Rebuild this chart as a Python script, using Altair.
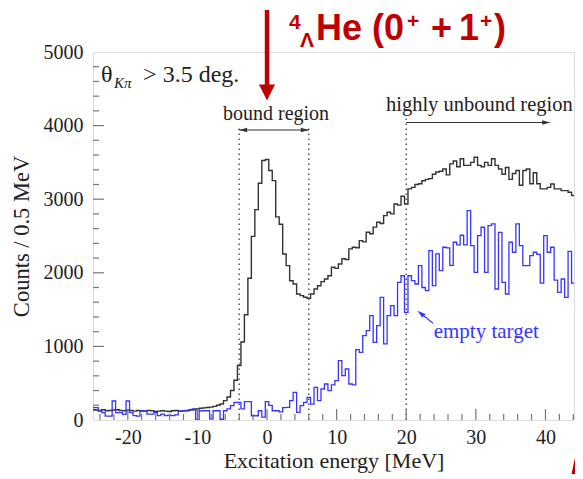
import altair as alt
import pandas as pd

# ---------------- data (bin centres every 0.5 MeV from -25 to 45) ----------------
BIN_START = -25.0
BIN_WIDTH = 0.5

black_counts = [
    140, 135, 130, 140, 125, 130, 135, 140, 130, 125,      # -25.0 .. -20.5
    135, 130, 120, 130, 125, 120, 130, 125, 115, 120,      # -20.0 .. -15.5
    125, 120, 115, 125, 130, 120, 125, 130, 135, 140,      # -15.0 .. -10.5
    150, 160, 165, 170, 175, 185, 200, 217, 263, 312,      # -10.0 .. -5.5
    400, 540, 740, 1060, 1430, 1925, 2495, 2858, 3216, 3525,  # -5.0 .. -0.5
    3540, 3390, 3253, 2760, 2660, 2256, 2097, 1893, 1848, 1712,  # 0.0 .. 4.5
    1690, 1667, 1654, 1712, 1780, 1825, 1880, 1916, 1960, 2075,  # 5.0 .. 9.5
    2060, 2120, 2190, 2180, 2325, 2347, 2340, 2437, 2420, 2550,  # 10.0 .. 14.5
    2530, 2620, 2686, 2670, 2777, 2822, 2800, 2935, 2920, 3040,  # 15.0 .. 19.5
    2935, 3140, 3160, 3200, 3210, 3250, 3270, 3280, 3340, 3370,  # 20.0 .. 24.5
    3380, 3410, 3330, 3480, 3520, 3440, 3550, 3460, 3460, 3500,  # 25.0 .. 29.5
    3570, 3460, 3440, 3500, 3460, 3550, 3460, 3410, 3340, 3430,  # 30.0 .. 34.5
    3270, 3350, 3390, 3190, 3390, 3410, 3210, 3360, 3210, 3140,  # 35.0 .. 39.5
    3140, 3160, 3207, 3140, 3140, 3117, 3117, 3095, 3050, 2980,  # 40.0 .. 44.5
    2980,                                                        # 45.0
]

blue_counts = [
    168, 168, 122, 100, 54, 54, 258, 100, 100, 77,           # -25.0 .. -20.5
    258, 100, 60, 54, 122, 122, 80, 80, 100, 60,             # -20.0 .. -15.5
    80, 60, 65, 60, 70, 120, 126, 126, 140, 150,             # -15.0 .. -10.5
    5, 126, 126, 126, 15, 126, 126, 10, 126, 150,            # -10.0 .. -5.5
    195, 240, 240, 150, 249, 249, 58, 58, 126, 40,           # -5.0 .. -0.5
    249, 200, 126, 126, 110, 168, 172, 262, 376, 104,        # 0.0 .. 4.5
    195, 240, 308, 217, 444, 262, 421, 489, 398, 476,        # 5.0 .. 9.5
    534, 806, 602, 693, 489, 476, 955, 920, 1146, 1214,      # 10.0 .. 14.5
    1417, 1056, 1282, 1667, 1033, 1417, 1553, 1417, 1871, 1960,  # 15.0 .. 19.5
    1463, 1960, 1893, 1848, 2097, 1800, 1757, 2300, 1825, 2256,  # 20.0 .. 24.5
    2029, 2347, 2340, 2100, 2415, 2380, 2510, 2380, 2845, 2369,  # 25.0 .. 29.5
    2007, 2505, 2619, 2007, 2641, 2664, 1780, 2550, 1871, 1712,  # 30.0 .. 34.5
    2415, 2279, 2664, 2369, 2097, 2097, 2233, 2279, 2250, 1860,  # 35.0 .. 39.5
    2505, 2279, 2347, 1900, 1735, 1916, 1667, 2290, 1860, 2075,  # 40.0 .. 44.5
    2075,                                                        # 45.0
]

energy = [BIN_START + BIN_WIDTH * i for i in range(len(black_counts))]

x_tick_labels = [-20, -10, 0, 10, 20, 30, 40]
x_minor = [-24, -22, -18, -16, -14, -12, -8, -6, -4, -2, 2, 4, 6, 8, 12, 14, 16, 18,
           22, 24, 26, 28, 32, 34, 36, 38, 42, 44]
y_tick_labels = [0, 1000, 2000, 3000, 4000, 5000]
y_major = [1000, 2000, 3000, 4000]
y_minor = [200, 400, 600, 800, 1200, 1400, 1600, 1800, 2200, 2400, 2600, 2800,
           3200, 3400, 3600, 3800, 4200, 4400, 4600, 4800]

dotted_x = [-4, 6, 20]
dotted_top = [4000, 4000, 4100]

# the picture is cut at its right edge a little before 45 MeV
X_VIEW = [-25, 44.1]

W, H = 481, 368
SERIF = "Liberation Serif"
SANS = "Liberation Sans"
RED = "#C00000"
BLUE = "#3535ff"
DARK = "#333333"

x_scale = alt.Scale(domain=X_VIEW, nice=False, zero=False)
y_scale = alt.Scale(domain=[0, 5000], nice=False)
x_axis = alt.Axis(values=x_tick_labels, labelExpr="'' + datum.value", ticks=False,
                  domain=False, grid=False, labelFont=SERIF, labelFontSize=20,
                  labelColor="#222", labelPadding=7, titleFont=SERIF, titleFontSize=22,
                  titleFontWeight="normal", titleColor="#222", titleBaseline="alphabetic",
                  titleY=47)
y_axis = alt.Axis(values=y_tick_labels, labelExpr="'' + datum.value", ticks=False,
                  domain=False, grid=False, labelFont=SERIF, labelFontSize=20,
                  labelColor="#222", labelPadding=10, titleFont=SERIF, titleFontSize=22.5,
                  titleFontWeight="normal", titleColor="#222", titlePadding=10)
X_TITLE = "Excitation energy [MeV]"
Y_TITLE = "Counts / 0.5 MeV"


def X(field):
    return alt.X(field, type="quantitative", scale=x_scale, axis=x_axis, title=X_TITLE)


def Y(field):
    return alt.Y(field, type="quantitative", scale=y_scale, axis=y_axis, title=Y_TITLE)


df_black = pd.DataFrame({"energy": energy, "counts": black_counts})
df_blue = pd.DataFrame({"energy": energy, "counts": blue_counts})

black = alt.Chart(df_black).mark_line(interpolate="step", color=DARK, strokeWidth=1.4,
                                      clip=True).encode(x=X("energy"), y=Y("counts"))
blue = alt.Chart(df_blue).mark_line(interpolate="step", color=BLUE, strokeWidth=1.3,
                                    clip=True).encode(x=X("energy"), y=Y("counts"))

dotted = alt.Chart(pd.DataFrame({"x": dotted_x, "y0": [0, 0, 0], "top": dotted_top})).mark_rule(
    color="#555", strokeWidth=1.5, strokeDash=[1.5, 3.5]).encode(
    x=X("x"), y=Y("y0"), y2="top:Q")


def xticks(vals, length):
    return alt.Chart(pd.DataFrame({"v": vals})).mark_rule(color="#777", strokeWidth=1.2).encode(
        x=X("v"), y=alt.value(H), y2=alt.value(H - length))


def yticks(vals, length):
    return alt.Chart(pd.DataFrame({"v": vals})).mark_rule(color="#777", strokeWidth=1.2).encode(
        y=Y("v"), x=alt.value(0), x2=alt.value(length))


ticks = [xticks(x_tick_labels, 11), xticks(x_minor, 6), yticks(y_major, 11), yticks(y_minor, 6)]

arrows = alt.Chart(pd.DataFrame({"x": [-4, 20], "x2": [6, 40.6], "y": [3940, 4042]})).mark_rule(
    color=DARK, strokeWidth=1.1).encode(x=X("x"), x2="x2:Q", y=Y("y"))

heads = alt.Chart(pd.DataFrame({
    "x": [-3.43, 5.43, 40.1], "y": [3940, 3940, 4042],
    "shape": ["M-1,0L1,-0.55L1,0.55Z", "M1,0L-1,-0.55L-1,0.55Z", "M1,0L-1,-0.55L-1,0.55Z"],
})).mark_point(filled=True, size=64, color=DARK, opacity=1, strokeWidth=0).encode(
    x=X("x"), y=Y("y"), shape=alt.Shape("shape:N", scale=None))

blue_arrow = alt.Chart(pd.DataFrame({"x": [23.85], "x2": [22.2], "y": [1314], "y2": [1440]})).mark_rule(
    color=BLUE, strokeWidth=1.1).encode(x=X("x"), x2="x2:Q", y=Y("y"), y2="y2:Q")

blue_head = alt.Chart(pd.DataFrame({"x": [22.07], "y": [1450]})).mark_point(
    filled=True, size=70, color=BLUE, opacity=1, strokeWidth=0, angle=308,
    shape="M0,-1L0.6,1L-0.6,1Z").encode(x=X("x"), y=Y("y"))


def label(text, x, y, size=20, color="#222", align="left", style="normal"):
    return alt.Chart(pd.DataFrame({"x": [x], "y": [y], "t": [text]})).mark_text(
        align=align, baseline="alphabetic", font=SERIF, fontSize=size, color=color,
        fontStyle=style).encode(x=X("x"), y=Y("y"), text="t:N")


texts = [
    label("θ", -23.85, 4592, 24),
    label("Kπ", -22.0, 4515, 15, style="italic"),
    label("> 3.5 deg.", -17.8, 4592, 24),
    label("bound region", 1.3, 4076, 20, align="center"),
    label("highly unbound region", 30.5, 4198, 20.5, align="center"),
    label("empty target", 31.5, 1114, 21, color=BLUE, align="center"),
]


# red title above the plot (pixel offsets from the plot's top-left corner)
def ptext(text, px, py, size):
    return alt.Chart(pd.DataFrame({"t": [text]})).mark_text(
        align="left", baseline="alphabetic", font=SANS, fontSize=size, fontWeight="bold",
        color=RED).encode(x=alt.value(px), y=alt.value(py), text="t:N")


red = [
    ptext("4", 196, -23, 21),
    ptext("Λ", 207, -5, 21),
    ptext("He (0", 223, -12, 36),
    ptext("+", 314, -24, 21),
    ptext("+", 338, -12, 36),
    ptext("1", 366, -12, 36),
    ptext("+", 387, -24, 21),
    ptext(")", 401, -12, 36),
]

red_arrow = alt.Chart(pd.DataFrame({"x": [0]})).mark_rule(color=RED, strokeWidth=4.5).encode(
    x=X("x"), y=alt.value(-42), y2=alt.value(34))
red_head = alt.Chart(pd.DataFrame({"x": [0]})).mark_point(
    filled=True, size=256, color=RED, opacity=1, strokeWidth=0, shape="M-1,-1L1,-1L0,1Z").encode(
    x=X("x"), y=alt.value(40.5))
red_corner = alt.Chart(pd.DataFrame({"x": [0]})).mark_rule(color=RED, strokeWidth=7).encode(
    x=alt.value(488), x2=alt.value(480), y=alt.value(394), y2=alt.value(432))

chart = alt.layer(
    black, blue, dotted, *ticks, arrows, heads, blue_arrow, blue_head, *texts, *red,
    red_arrow, red_head, red_corner,
).properties(
    width=W, height=H,
    autosize=alt.AutoSizeParams(type="none"),
    padding={"left": 85, "top": 44, "right": 1, "bottom": 54},
).configure_view(stroke="#777", strokeWidth=1.5).configure(background="white")

chart.save("out.html", embed_options={"renderer": "svg", "actions": False})
